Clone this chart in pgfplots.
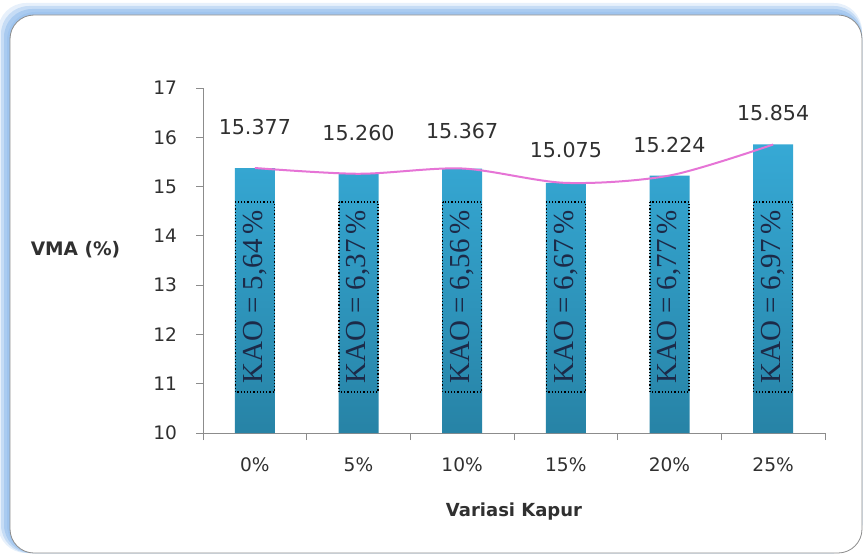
\documentclass[border=0pt]{standalone}
\usepackage{fontspec}
\setmainfont{DejaVu Sans}
\newfontfamily\kaofont{Liberation Serif}
\usepackage{pgfplots}
\pgfplotsset{compat=1.18}
\definecolor{barTop}{HTML}{36A9D5}
\definecolor{barBot}{HTML}{2783A6}
\definecolor{lineC}{HTML}{E674D6}
\definecolor{axC}{HTML}{8C8C8C}
\definecolor{glow}{HTML}{9EC4EE}
\definecolor{txt}{HTML}{303030}
\definecolor{kao}{HTML}{1C2A48}

\begin{document}
\begin{tikzpicture}
\path[use as bounding box] (0,0) rectangle (433pt,-278pt);
% blue glow round the frame
\foreach \o/\op in {6/0.25,4.5/0.45,3/0.7,1.5/0.95}{
  \fill[glow,opacity=\op,rounded corners=14pt] (5pt-\o pt,-7.5pt+\o pt) rectangle (431pt,-276.5pt);
}
\filldraw[fill=white,draw=gray!90,rounded corners=12pt] (5pt,-7.5pt) rectangle (431pt,-276.5pt);

\begin{axis}[
    at={(101.5pt,-216.5pt)}, anchor=south west,
    scale only axis, width=311pt, height=172.5pt,
    xmin=-0.5, xmax=5.5, ymin=0, ymax=7,
    y filter/.expression={y-10},
    axis x line*=bottom, axis y line*=left,
    axis line style={axC},
    every tick/.style={axC},
    tick align=outside, major tick length=3.5pt,
    xtick={-0.5,0.5,...,5.5}, xticklabels={},
    extra x ticks={0,1,2,3,4,5},
    extra x tick labels={0\%,5\%,10\%,15\%,20\%,25\%},
    extra x tick style={major tick length=0pt,
      tick label style={yshift=-9pt}},
    ytick={0,1,...,7}, yticklabels={10,11,12,13,14,15,16,17},
    yticklabel style={xshift=-6pt},
    tick label style={font=\fontsize{9.3}{11}\selectfont, text=txt},
    xlabel={Variasi Kapur}, ylabel={VMA (\%)},
    xlabel style={font=\bfseries\fontsize{9}{11}\selectfont, text=txt,
      at={(axis description cs:0.5,-0.229)}, anchor=center},
    ylabel style={font=\bfseries\fontsize{9.3}{11}\selectfont, text=txt, rotate=-90,
      at={(axis description cs:-0.205,0.53)}, anchor=center},
    clip=false,
  ]
  % bars
  \addplot[ybar, bar width=20pt, draw=none, top color=barTop, bottom color=barBot]
    coordinates {(0,15.377) (1,15.260) (2,15.367) (3,15.075) (4,15.224) (5,15.854)};
  % KAO boxes
  \addplot[draw=none, mark=none, nodes near coords, point meta=explicit symbolic,
    every node near coord/.append style={anchor=center, rotate=90, draw=black,
      densely dotted, line width=0.6pt, minimum width=95pt, minimum height=19.5pt,
      inner sep=0pt, text=kao, font=\kaofont\fontsize{14.5}{15}\selectfont}]
    coordinates {(0,12.76) [KAO = 5,64\,\%] (1,12.76) [KAO = 6,37\,\%] (2,12.76) [KAO = 6,56\,\%]
                 (3,12.76) [KAO = 6,67\,\%] (4,12.76) [KAO = 6,77\,\%] (5,12.76) [KAO = 6,97\,\%]};
  % line
  \addplot[lineC, line width=1pt, smooth, mark=none]
    coordinates {(0,15.377) (1,15.260) (2,15.367) (3,15.075) (4,15.224) (5,15.854)};
  % value labels
  \addplot[draw=none, mark=none, nodes near coords, point meta=explicit symbolic,
    every node near coord/.append style={anchor=center, text=txt,
      font=\fontsize{10.3}{12}\selectfont}]
    coordinates {(0,16.21) [15.377] (1,16.09) [15.260] (2,16.13) [15.367]
                 (3,15.74) [15.075] (4,15.84) [15.224] (5,16.49) [15.854]};
\end{axis}
\end{tikzpicture}
\end{document}
